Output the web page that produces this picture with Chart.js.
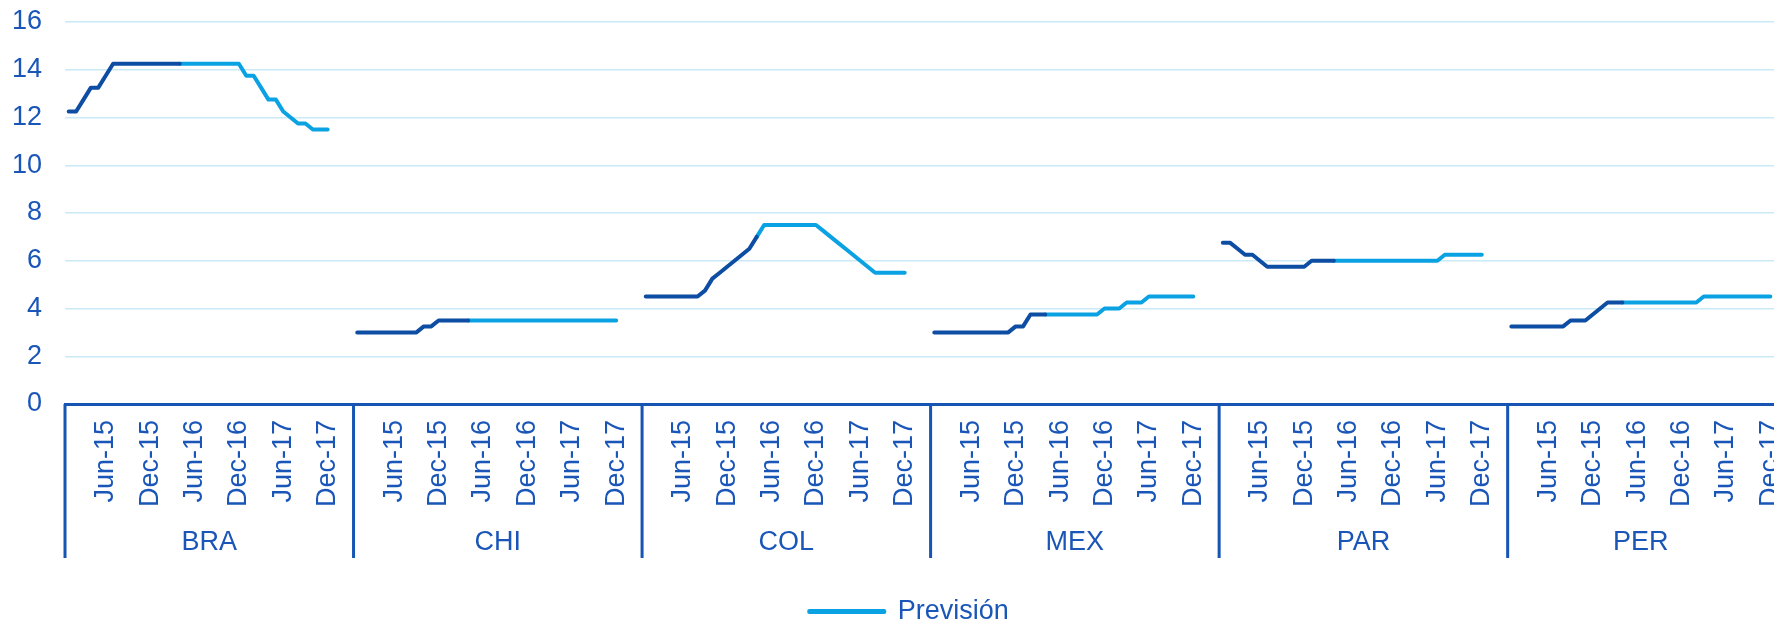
<!DOCTYPE html>
<html>
<head>
<meta charset="utf-8">
<script src="https://cdn.jsdelivr.net/npm/chart.js@4.4.1/dist/chart.umd.min.js"></script>
<style>
  html, body { margin: 0; padding: 0; background: #fff; overflow: hidden; }
</style>
</head>
<body>
<canvas id="grafico" width="1774" height="622"></canvas>
<script>
// categorías: países y meses de cada grupo
const paises = ['BRA', 'CHI', 'COL', 'MEX', 'PAR', 'PER'];
const meses = [
  'Jan-15', 'Feb-15', 'Mar-15', 'Apr-15', 'May-15', 'Jun-15', 'Jul-15', 'Aug-15', 'Sep-15', 'Oct-15', 'Nov-15', 'Dec-15',
  'Jan-16', 'Feb-16', 'Mar-16', 'Apr-16', 'May-16', 'Jun-16', 'Jul-16', 'Aug-16', 'Sep-16', 'Oct-16', 'Nov-16', 'Dec-16',
  'Jan-17', 'Feb-17', 'Mar-17', 'Apr-17', 'May-17', 'Jun-17', 'Jul-17', 'Aug-17', 'Sep-17', 'Oct-17', 'Nov-17', 'Dec-17',
  'Jan-18', 'Feb-18', 'Mar-18'
];
const etiquetasVisibles = ['Jun-15', 'Dec-15', 'Jun-16', 'Dec-16', 'Jun-17', 'Dec-17'];
const ultimoDato = 'Apr-16';   // último mes observado, desde ahí es previsión
const mesFinalVisible = 'Dec-17';

// tipos de interés (%), Jan-15 .. Dec-17
const tasaBRA = [12.25, 12.25, 12.75, 13.25, 13.25, 13.75, 14.25, 14.25, 14.25, 14.25, 14.25, 14.25,
                 14.25, 14.25, 14.25, 14.25, 14.25, 14.25, 14.25, 14.25, 14.25, 14.25, 14.25, 14.25,
                 13.75, 13.75, 13.25, 12.75, 12.75, 12.25, 12.0, 11.75, 11.75, 11.5, 11.5, 11.5];
const tasaCHI = [3.0, 3.0, 3.0, 3.0, 3.0, 3.0, 3.0, 3.0, 3.0, 3.25, 3.25, 3.5,
                 3.5, 3.5, 3.5, 3.5, 3.5, 3.5, 3.5, 3.5, 3.5, 3.5, 3.5, 3.5,
                 3.5, 3.5, 3.5, 3.5, 3.5, 3.5, 3.5, 3.5, 3.5, 3.5, 3.5, 3.5];
const tasaCOL = [4.5, 4.5, 4.5, 4.5, 4.5, 4.5, 4.5, 4.5, 4.75, 5.25, 5.5, 5.75,
                 6.0, 6.25, 6.5, 7.0, 7.5, 7.5, 7.5, 7.5, 7.5, 7.5, 7.5, 7.5,
                 7.25, 7.0, 6.75, 6.5, 6.25, 6.0, 5.75, 5.5, 5.5, 5.5, 5.5, 5.5];
const tasaMEX = [3.0, 3.0, 3.0, 3.0, 3.0, 3.0, 3.0, 3.0, 3.0, 3.0, 3.0, 3.25,
                 3.25, 3.75, 3.75, 3.75, 3.75, 3.75, 3.75, 3.75, 3.75, 3.75, 3.75, 4.0,
                 4.0, 4.0, 4.25, 4.25, 4.25, 4.5, 4.5, 4.5, 4.5, 4.5, 4.5, 4.5];
const tasaPAR = [6.75, 6.75, 6.5, 6.25, 6.25, 6.0, 5.75, 5.75, 5.75, 5.75, 5.75, 5.75,
                 6.0, 6.0, 6.0, 6.0, 6.0, 6.0, 6.0, 6.0, 6.0, 6.0, 6.0, 6.0,
                 6.0, 6.0, 6.0, 6.0, 6.0, 6.0, 6.25, 6.25, 6.25, 6.25, 6.25, 6.25];
const tasaPER = [3.25, 3.25, 3.25, 3.25, 3.25, 3.25, 3.25, 3.25, 3.5, 3.5, 3.5, 3.75,
                 4.0, 4.25, 4.25, 4.25, 4.25, 4.25, 4.25, 4.25, 4.25, 4.25, 4.25, 4.25,
                 4.25, 4.25, 4.5, 4.5, 4.5, 4.5, 4.5, 4.5, 4.5, 4.5, 4.5, 4.5];
const tasas = [tasaBRA, tasaCHI, tasaCOL, tasaMEX, tasaPAR, tasaPER];

const ticksY = [0, 2, 4, 6, 8, 10, 12, 14, 16];

const colorTexto = '#1A56B8';
const colorEje = '#1655B3';
const colorHist = '#0D4DA3';
const colorPrev = '#0BA2E3';
const colorGrid = '#CBEAF8';
const tamLetra = 27;

Chart.defaults.font.family = "'Liberation Sans', Arial, sans-serif";
Chart.defaults.color = colorTexto;

// eje de categorías: todos los meses de cada país, uno tras otro
const etiquetas = [];
const historico = [];
const prevision = [];
const corte = meses.indexOf(ultimoDato);
paises.forEach((p, g) => {
  meses.forEach((m, i) => {
    etiquetas.push(m);
    const v = i < tasas[g].length ? tasas[g][i] : null;
    historico.push(v !== null && i <= corte ? v : null);
    prevision.push(v !== null && i >= corte ? v : null);
  });
});
const indiceFinal = (paises.length - 1) * meses.length + meses.indexOf(mesFinalVisible);

const grupos = {
  id: 'grupos',
  afterLayout(chart) {
    // la leyenda va algo desplazada a la derecha en el original
    chart.legend.left += 22;
    chart.legend.right += 22;
  },
  afterDraw(chart) {
    const { ctx, chartArea, scales: { x } } = chart;
    ctx.save();
    ctx.strokeStyle = colorEje;
    ctx.lineWidth = 3;
    ctx.fillStyle = colorTexto;
    ctx.font = tamLetra + "px 'Liberation Sans', Arial, sans-serif";
    ctx.textAlign = 'center';
    ctx.textBaseline = 'middle';
    paises.forEach((p, g) => {
      const ini = x.getPixelForValue(g * meses.length - 0.5);
      const fin = x.getPixelForValue((g + 1) * meses.length - 0.5);
      if (ini <= chartArea.right + 1) {
        ctx.beginPath();
        ctx.moveTo(ini, chartArea.bottom);
        ctx.lineTo(ini, chartArea.bottom + 154);
        ctx.stroke();
      }
      const a = Math.max(ini, chartArea.left);
      const b = Math.min(fin, chartArea.right);
      if (b > a) ctx.fillText(p, (a + b) / 2, chartArea.bottom + 139);
    });
    ctx.restore();
  }
};

new Chart(document.getElementById('grafico'), {
  type: 'line',
  data: {
    labels: etiquetas,
    datasets: [
      {
        label: '',
        data: historico,
        borderColor: colorHist,
        backgroundColor: colorHist,
        borderWidth: 4,
        pointRadius: 0,
        borderCapStyle: 'round',
        borderJoinStyle: 'round',
        tension: 0
      },
      {
        label: 'Previsión',
        data: prevision,
        borderColor: colorPrev,
        backgroundColor: colorPrev,
        borderWidth: 4,
        pointRadius: 0,
        borderCapStyle: 'round',
        borderJoinStyle: 'round',
        tension: 0
      }
    ]
  },
  options: {
    responsive: false,
    animation: false,
    devicePixelRatio: 1,
    layout: { padding: { top: 22, left: 0, right: 0, bottom: -13 } },
    plugins: {
      tooltip: { enabled: false },
      legend: {
        position: 'bottom',
        labels: {
          filter: (item) => item.datasetIndex === 1,
          boxWidth: 75,
          boxHeight: 1,
          padding: 0,
          color: colorTexto,
          font: { size: tamLetra }
        }
      }
    },
    scales: {
      x: {
        type: 'category',
        max: indiceFinal,
        offset: true,
        grid: { display: false, drawTicks: false },
        border: { display: true, color: colorEje, width: 3 },
        ticks: {
          autoSkip: false,
          minRotation: 90,
          maxRotation: 90,
          padding: 16,
          color: colorTexto,
          font: { size: tamLetra },
          callback: function (value) {
            const lab = this.getLabelForValue(value);
            return etiquetasVisibles.includes(lab) ? lab : '';
          }
        },
        afterFit: (s) => {
          s.height = 194;
          s.paddingLeft = 0;
          s.paddingRight = 0;
        }
      },
      y: {
        min: ticksY[0],
        max: ticksY[ticksY.length - 1],
        grid: { color: colorGrid, lineWidth: 1.5, drawTicks: false },
        border: { display: false },
        ticks: {
          stepSize: ticksY[1] - ticksY[0],
          padding: 23,
          color: colorTexto,
          font: { size: tamLetra }
        },
        afterFit: (s) => {
          s.width = 65;
          s.paddingTop = 0;
          s.paddingBottom = 0;
        }
      }
    }
  },
  plugins: [grupos]
});
</script>
</body>
</html>
